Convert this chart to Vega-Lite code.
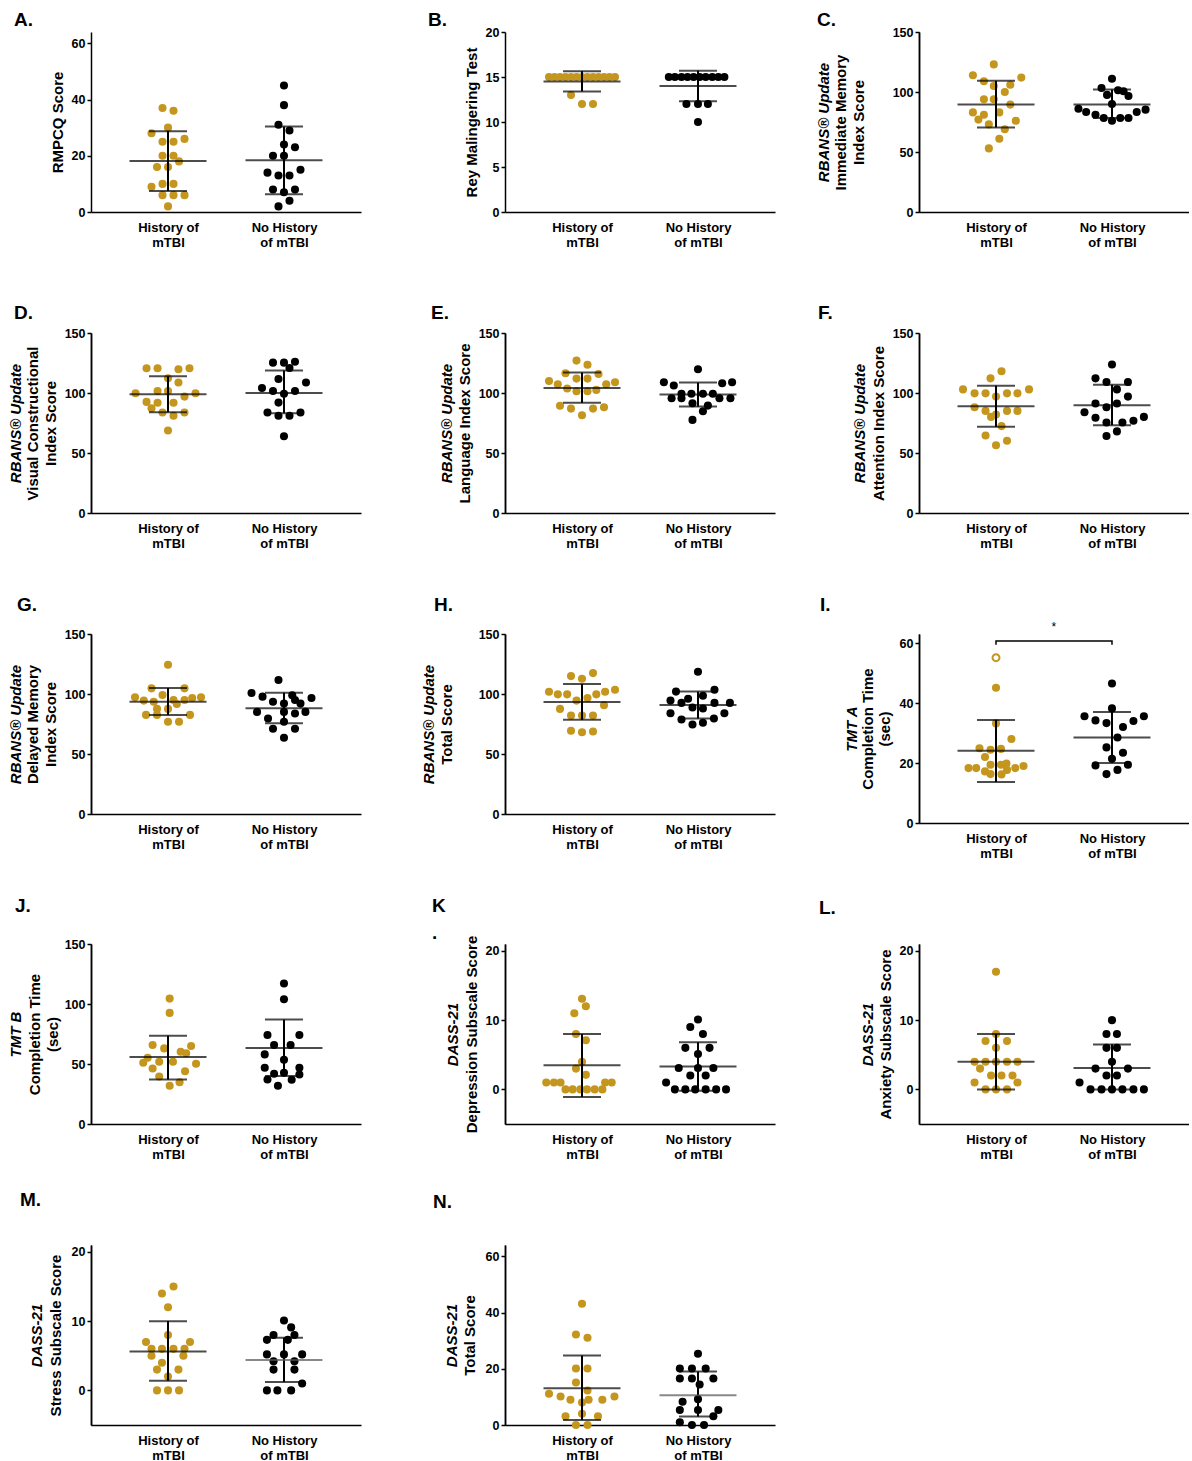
{
"$schema":"https://vega.github.io/schema/vega-lite/v6.json",
"padding":{"left":8,"top":11,"right":0,"bottom":0},
"background":"white",
"datasets":{
"pts":[
{"p":"A","g":"H","v":37,"s":-1},{"p":"A","g":"H","v":36,"s":1},{"p":"A","g":"H","v":30,"s":0},{"p":"A","g":"H","v":28,"s":-3},{"p":"A","g":"H","v":26,"s":3},{"p":"A","g":"H","v":25,"s":-1},{"p":"A","g":"H","v":25,"s":1},{"p":"A","g":"H","v":20,"s":-1},{"p":"A","g":"H","v":20,"s":1},{"p":"A","g":"H","v":18,"s":2},{"p":"A","g":"H","v":16,"s":-2},{"p":"A","g":"H","v":16,"s":0},{"p":"A","g":"H","v":9,"s":-3},{"p":"A","g":"H","v":10,"s":-1},{"p":"A","g":"H","v":10,"s":1},{"p":"A","g":"H","v":6,"s":-1},{"p":"A","g":"H","v":6,"s":1},{"p":"A","g":"H","v":6,"s":3},{"p":"A","g":"H","v":2,"s":0},
{"p":"A","g":"N","v":45,"s":0},{"p":"A","g":"N","v":38,"s":0},{"p":"A","g":"N","v":31,"s":-1},{"p":"A","g":"N","v":29,"s":1},{"p":"A","g":"N","v":24,"s":0},{"p":"A","g":"N","v":23,"s":2},{"p":"A","g":"N","v":20,"s":-2},{"p":"A","g":"N","v":20,"s":0},{"p":"A","g":"N","v":14,"s":-3},{"p":"A","g":"N","v":13,"s":-1},{"p":"A","g":"N","v":13,"s":1},{"p":"A","g":"N","v":15,"s":3},{"p":"A","g":"N","v":8,"s":-2},{"p":"A","g":"N","v":7,"s":0},{"p":"A","g":"N","v":8,"s":2},{"p":"A","g":"N","v":4,"s":1},{"p":"A","g":"N","v":2,"s":-1},
{"p":"B","g":"H","v":15,"s":-6},{"p":"B","g":"H","v":15,"s":-5},{"p":"B","g":"H","v":15,"s":-4},{"p":"B","g":"H","v":15,"s":-3},{"p":"B","g":"H","v":15,"s":-2},{"p":"B","g":"H","v":15,"s":-1},{"p":"B","g":"H","v":15,"s":0},{"p":"B","g":"H","v":15,"s":1},{"p":"B","g":"H","v":15,"s":2},{"p":"B","g":"H","v":15,"s":3},{"p":"B","g":"H","v":15,"s":4},{"p":"B","g":"H","v":15,"s":5},{"p":"B","g":"H","v":15,"s":6},{"p":"B","g":"H","v":13,"s":-2},{"p":"B","g":"H","v":12,"s":0},{"p":"B","g":"H","v":12,"s":2},
{"p":"B","g":"N","v":15,"s":-5.3},{"p":"B","g":"N","v":15,"s":-4.2},{"p":"B","g":"N","v":15,"s":-3},{"p":"B","g":"N","v":15,"s":-1.9},{"p":"B","g":"N","v":15,"s":-0.8},{"p":"B","g":"N","v":15,"s":0.3},{"p":"B","g":"N","v":15,"s":1.4},{"p":"B","g":"N","v":15,"s":2.6},{"p":"B","g":"N","v":15,"s":3.7},{"p":"B","g":"N","v":15,"s":4.8},{"p":"B","g":"N","v":12,"s":-2.1},{"p":"B","g":"N","v":12,"s":0},{"p":"B","g":"N","v":12,"s":1.8},{"p":"B","g":"N","v":10,"s":0},
{"p":"C","g":"H","v":123,"s":-0.4},{"p":"C","g":"H","v":114,"s":-4.2},{"p":"C","g":"H","v":112,"s":4.6},{"p":"C","g":"H","v":109,"s":-2.2},{"p":"C","g":"H","v":105,"s":-0.4},{"p":"C","g":"H","v":106,"s":2.6},{"p":"C","g":"H","v":100,"s":1.6},{"p":"C","g":"H","v":94,"s":-2.2},{"p":"C","g":"H","v":94,"s":-0.4},{"p":"C","g":"H","v":89.5,"s":2.6},{"p":"C","g":"H","v":83,"s":-4.2},{"p":"C","g":"H","v":81,"s":-2.2},{"p":"C","g":"H","v":83,"s":0.6},{"p":"C","g":"H","v":77,"s":-3.2},{"p":"C","g":"H","v":76,"s":3.6},{"p":"C","g":"H","v":73,"s":-1.3},{"p":"C","g":"H","v":69,"s":1.6},{"p":"C","g":"H","v":61,"s":0.6},{"p":"C","g":"H","v":53,"s":-1.3},
{"p":"C","g":"N","v":111,"s":0},{"p":"C","g":"N","v":103.4,"s":-1.9},{"p":"C","g":"N","v":101.5,"s":1.1},{"p":"C","g":"N","v":97.6,"s":-0.9},{"p":"C","g":"N","v":100.6,"s":2.1},{"p":"C","g":"N","v":96.7,"s":3},{"p":"C","g":"N","v":90,"s":0},{"p":"C","g":"N","v":86.1,"s":-6.1},{"p":"C","g":"N","v":83.4,"s":-4.7},{"p":"C","g":"N","v":81.1,"s":-3},{"p":"C","g":"N","v":78.3,"s":-1.5},{"p":"C","g":"N","v":76.1,"s":0},{"p":"C","g":"N","v":78.3,"s":1.5},{"p":"C","g":"N","v":78.3,"s":3},{"p":"C","g":"N","v":83.4,"s":4.5},{"p":"C","g":"N","v":85.3,"s":6.1},
{"p":"D","g":"H","v":120.6,"s":-3.9},{"p":"D","g":"H","v":120.6,"s":-1.9},{"p":"D","g":"H","v":119.8,"s":1.9},{"p":"D","g":"H","v":120.6,"s":3.9},{"p":"D","g":"H","v":112.3,"s":0},{"p":"D","g":"H","v":108.7,"s":1.9},{"p":"D","g":"H","v":99.8,"s":-5.9},{"p":"D","g":"H","v":101.7,"s":-1.9},{"p":"D","g":"H","v":101.7,"s":0},{"p":"D","g":"H","v":99.8,"s":5},{"p":"D","g":"H","v":97,"s":3},{"p":"D","g":"H","v":92.6,"s":-3.9},{"p":"D","g":"H","v":91.8,"s":-1.9},{"p":"D","g":"H","v":91.8,"s":1},{"p":"D","g":"H","v":87.3,"s":-3},{"p":"D","g":"H","v":83.7,"s":-1},{"p":"D","g":"H","v":83.7,"s":3},{"p":"D","g":"H","v":81,"s":1},{"p":"D","g":"H","v":68.8,"s":0},
{"p":"D","g":"N","v":125.3,"s":-2},{"p":"D","g":"N","v":125.3,"s":0},{"p":"D","g":"N","v":126.1,"s":2},{"p":"D","g":"N","v":120.9,"s":1},{"p":"D","g":"N","v":111.7,"s":-1},{"p":"D","g":"N","v":108.7,"s":4},{"p":"D","g":"N","v":104.2,"s":-4},{"p":"D","g":"N","v":101.7,"s":-2},{"p":"D","g":"N","v":99.3,"s":0},{"p":"D","g":"N","v":101.7,"s":2},{"p":"D","g":"N","v":92,"s":-1},{"p":"D","g":"N","v":83.7,"s":-3},{"p":"D","g":"N","v":83.7,"s":3},{"p":"D","g":"N","v":81,"s":-1},{"p":"D","g":"N","v":81,"s":1},{"p":"D","g":"N","v":64,"s":0},
{"p":"E","g":"H","v":127,"s":-1},{"p":"E","g":"H","v":123.6,"s":1},{"p":"E","g":"H","v":116.4,"s":-3},{"p":"E","g":"H","v":115.9,"s":3},{"p":"E","g":"H","v":112,"s":-1},{"p":"E","g":"H","v":112,"s":1},{"p":"E","g":"H","v":110,"s":-6},{"p":"E","g":"H","v":109,"s":6},{"p":"E","g":"H","v":107.3,"s":-4.4},{"p":"E","g":"H","v":107.3,"s":4.4},{"p":"E","g":"H","v":103.7,"s":-2.7},{"p":"E","g":"H","v":101.5,"s":-1},{"p":"E","g":"H","v":101.5,"s":1},{"p":"E","g":"H","v":102.6,"s":2.6},{"p":"E","g":"H","v":89.3,"s":-4},{"p":"E","g":"H","v":87,"s":-2},{"p":"E","g":"H","v":87,"s":2},{"p":"E","g":"H","v":88.2,"s":4},{"p":"E","g":"H","v":81.5,"s":0},
{"p":"E","g":"N","v":119.8,"s":0},{"p":"E","g":"N","v":109,"s":-6.2},{"p":"E","g":"N","v":106.2,"s":-4.4},{"p":"E","g":"N","v":108.1,"s":4.4},{"p":"E","g":"N","v":109,"s":6.2},{"p":"E","g":"N","v":99.3,"s":-3},{"p":"E","g":"N","v":99.3,"s":-1.2},{"p":"E","g":"N","v":99.3,"s":0.9},{"p":"E","g":"N","v":99.3,"s":2.7},{"p":"E","g":"N","v":95.6,"s":-4.8},{"p":"E","g":"N","v":95.6,"s":-3},{"p":"E","g":"N","v":95.6,"s":3.9},{"p":"E","g":"N","v":95.6,"s":5.9},{"p":"E","g":"N","v":91.5,"s":-1},{"p":"E","g":"N","v":89.5,"s":1.8},{"p":"E","g":"N","v":84.8,"s":0.9},{"p":"E","g":"N","v":77.6,"s":-1},
{"p":"F","g":"H","v":118.2,"s":1},{"p":"F","g":"H","v":112.2,"s":-1},{"p":"F","g":"H","v":103,"s":-6},{"p":"F","g":"H","v":103,"s":6},{"p":"F","g":"H","v":99.7,"s":-3.9},{"p":"F","g":"H","v":99.7,"s":-1.9},{"p":"F","g":"H","v":99.7,"s":2},{"p":"F","g":"H","v":99.7,"s":3.9},{"p":"F","g":"H","v":97,"s":0},{"p":"F","g":"H","v":88.1,"s":-3.9},{"p":"F","g":"H","v":85.1,"s":-1.9},{"p":"F","g":"H","v":85.1,"s":2},{"p":"F","g":"H","v":85.1,"s":3.9},{"p":"F","g":"H","v":80.1,"s":-0.9},{"p":"F","g":"H","v":82,"s":0},{"p":"F","g":"H","v":72.4,"s":1},{"p":"F","g":"H","v":64.6,"s":-1.9},{"p":"F","g":"H","v":60.2,"s":2},{"p":"F","g":"H","v":56.4,"s":0},
{"p":"F","g":"N","v":123.8,"s":0},{"p":"F","g":"N","v":112.2,"s":-3},{"p":"F","g":"N","v":109.1,"s":-1},{"p":"F","g":"N","v":109.1,"s":2.9},{"p":"F","g":"N","v":103,"s":0.9},{"p":"F","g":"N","v":97,"s":2.9},{"p":"F","g":"N","v":91.2,"s":-3},{"p":"F","g":"N","v":88.1,"s":-1},{"p":"F","g":"N","v":91.2,"s":0.9},{"p":"F","g":"N","v":84,"s":-5},{"p":"F","g":"N","v":79.3,"s":-3},{"p":"F","g":"N","v":75.4,"s":-1},{"p":"F","g":"N","v":75.4,"s":1.9},{"p":"F","g":"N","v":76.8,"s":3.9},{"p":"F","g":"N","v":80.1,"s":5.8},{"p":"F","g":"N","v":68,"s":0.9},{"p":"F","g":"N","v":64.1,"s":-1},
{"p":"G","g":"H","v":124.3,"s":0},{"p":"G","g":"H","v":104.7,"s":-3},{"p":"G","g":"H","v":104.7,"s":3},{"p":"G","g":"H","v":99.2,"s":-1},{"p":"G","g":"H","v":95,"s":1},{"p":"G","g":"H","v":97.2,"s":-6},{"p":"G","g":"H","v":94.5,"s":-4.4},{"p":"G","g":"H","v":93.6,"s":-2.6},{"p":"G","g":"H","v":96.7,"s":4.4},{"p":"G","g":"H","v":97.2,"s":6},{"p":"G","g":"H","v":95,"s":3},{"p":"G","g":"H","v":91.7,"s":1.6},{"p":"G","g":"H","v":87.6,"s":0},{"p":"G","g":"H","v":87.6,"s":-2},{"p":"G","g":"H","v":82.6,"s":-4},{"p":"G","g":"H","v":82.6,"s":-2},{"p":"G","g":"H","v":82.6,"s":4},{"p":"G","g":"H","v":76.8,"s":0},{"p":"G","g":"H","v":76.8,"s":2},
{"p":"G","g":"N","v":111.6,"s":-1},{"p":"G","g":"N","v":100.8,"s":-5.9},{"p":"G","g":"N","v":97.8,"s":-3.9},{"p":"G","g":"N","v":99,"s":1.5},{"p":"G","g":"N","v":95,"s":2},{"p":"G","g":"N","v":93.6,"s":-2},{"p":"G","g":"N","v":92,"s":0},{"p":"G","g":"N","v":92,"s":3},{"p":"G","g":"N","v":96.7,"s":5},{"p":"G","g":"N","v":85.1,"s":-4.9},{"p":"G","g":"N","v":79.6,"s":-2.9},{"p":"G","g":"N","v":85.1,"s":0},{"p":"G","g":"N","v":83.7,"s":2},{"p":"G","g":"N","v":85.1,"s":3.9},{"p":"G","g":"N","v":76.8,"s":0},{"p":"G","g":"N","v":71,"s":-2},{"p":"G","g":"N","v":71,"s":2},{"p":"G","g":"N","v":63.5,"s":0},
{"p":"H","g":"H","v":114.9,"s":-2},{"p":"H","g":"H","v":112.7,"s":0},{"p":"H","g":"H","v":117.4,"s":2},{"p":"H","g":"H","v":101.9,"s":-6},{"p":"H","g":"H","v":99.7,"s":-4.4},{"p":"H","g":"H","v":99.7,"s":-2.7},{"p":"H","g":"H","v":94.5,"s":-1},{"p":"H","g":"H","v":96.7,"s":1},{"p":"H","g":"H","v":99.7,"s":2.6},{"p":"H","g":"H","v":101.9,"s":4.2},{"p":"H","g":"H","v":103.6,"s":6},{"p":"H","g":"H","v":87.6,"s":-4},{"p":"H","g":"H","v":82,"s":-2},{"p":"H","g":"H","v":82,"s":0},{"p":"H","g":"H","v":82,"s":2},{"p":"H","g":"H","v":90.6,"s":4},{"p":"H","g":"H","v":69.3,"s":-2},{"p":"H","g":"H","v":68.2,"s":0},{"p":"H","g":"H","v":68.8,"s":2},
{"p":"H","g":"N","v":118.6,"s":0},{"p":"H","g":"N","v":102,"s":-4},{"p":"H","g":"N","v":103.6,"s":3},{"p":"H","g":"N","v":94.5,"s":-5},{"p":"H","g":"N","v":92.6,"s":-3},{"p":"H","g":"N","v":96.1,"s":-1.8},{"p":"H","g":"N","v":98.6,"s":0.9},{"p":"H","g":"N","v":88.7,"s":-1},{"p":"H","g":"N","v":87.9,"s":0.9},{"p":"H","g":"N","v":92.6,"s":3},{"p":"H","g":"N","v":92.6,"s":5.8},{"p":"H","g":"N","v":84,"s":-5},{"p":"H","g":"N","v":84,"s":4.8},{"p":"H","g":"N","v":78.8,"s":-3},{"p":"H","g":"N","v":74.6,"s":-1},{"p":"H","g":"N","v":76,"s":0.9},{"p":"H","g":"N","v":79.6,"s":2.9},
{"p":"I","g":"H","v":55.1,"s":0,"o":1},{"p":"I","g":"H","v":45.1,"s":0},{"p":"I","g":"H","v":33.2,"s":0},{"p":"I","g":"H","v":28,"s":2.8},{"p":"I","g":"H","v":24.9,"s":-3},{"p":"I","g":"H","v":24.4,"s":-1},{"p":"I","g":"H","v":24.7,"s":0.9},{"p":"I","g":"H","v":22,"s":-2},{"p":"I","g":"H","v":18.3,"s":-5},{"p":"I","g":"H","v":18.3,"s":-3.6},{"p":"I","g":"H","v":19.4,"s":-1},{"p":"I","g":"H","v":19.4,"s":0.9},{"p":"I","g":"H","v":19.8,"s":1.9},{"p":"I","g":"H","v":18.3,"s":3.5},{"p":"I","g":"H","v":19,"s":5},{"p":"I","g":"H","v":17.2,"s":-2},{"p":"I","g":"H","v":17.7,"s":2},{"p":"I","g":"H","v":16.3,"s":-1},{"p":"I","g":"H","v":16.2,"s":1},
{"p":"I","g":"N","v":46.5,"s":0},{"p":"I","g":"N","v":38.2,"s":0},{"p":"I","g":"N","v":35.6,"s":-5},{"p":"I","g":"N","v":34.2,"s":-3},{"p":"I","g":"N","v":33.3,"s":-1},{"p":"I","g":"N","v":34,"s":3.9},{"p":"I","g":"N","v":35.6,"s":5.8},{"p":"I","g":"N","v":32,"s":2},{"p":"I","g":"N","v":28.5,"s":1},{"p":"I","g":"N","v":25.2,"s":-1},{"p":"I","g":"N","v":23.4,"s":2},{"p":"I","g":"N","v":21.4,"s":0},{"p":"I","g":"N","v":19.2,"s":-3},{"p":"I","g":"N","v":19.4,"s":2.9},{"p":"I","g":"N","v":17.7,"s":1},{"p":"I","g":"N","v":16.3,"s":-1},
{"p":"J","g":"H","v":104.5,"s":0.3},{"p":"J","g":"H","v":92.6,"s":0.3},{"p":"J","g":"H","v":65.8,"s":-2.8},{"p":"J","g":"H","v":63,"s":-0.7},{"p":"J","g":"H","v":65,"s":4.2},{"p":"J","g":"H","v":60.2,"s":2.3},{"p":"J","g":"H","v":59,"s":3.3},{"p":"J","g":"H","v":55.2,"s":-3.7},{"p":"J","g":"H","v":51,"s":-4.5},{"p":"J","g":"H","v":51.8,"s":-1.6},{"p":"J","g":"H","v":51.8,"s":0.9},{"p":"J","g":"H","v":50.2,"s":5.1},{"p":"J","g":"H","v":46.3,"s":-2.8},{"p":"J","g":"H","v":44,"s":3.1},{"p":"J","g":"H","v":39.6,"s":-1.6},{"p":"J","g":"H","v":34.8,"s":2.1},{"p":"J","g":"H","v":31.8,"s":0.3},
{"p":"J","g":"N","v":117.1,"s":0},{"p":"J","g":"N","v":104,"s":0},{"p":"J","g":"N","v":74.2,"s":-3},{"p":"J","g":"N","v":74.2,"s":2.8},{"p":"J","g":"N","v":65.8,"s":-1.8},{"p":"J","g":"N","v":65.8,"s":1.2},{"p":"J","g":"N","v":58,"s":-3.5},{"p":"J","g":"N","v":53.5,"s":0},{"p":"J","g":"N","v":46.8,"s":-3.5},{"p":"J","g":"N","v":46.8,"s":2.8},{"p":"J","g":"N","v":42.7,"s":0},{"p":"J","g":"N","v":41.8,"s":-1.8},{"p":"J","g":"N","v":41.3,"s":2.8},{"p":"J","g":"N","v":37.1,"s":-3},{"p":"J","g":"N","v":36.8,"s":1.4},{"p":"J","g":"N","v":31.8,"s":-1.1},
{"p":"K","g":"H","v":13.1,"s":0},{"p":"K","g":"H","v":12,"s":0.7},{"p":"K","g":"H","v":11,"s":-1.4},{"p":"K","g":"H","v":8,"s":-1.1},{"p":"K","g":"H","v":7.1,"s":0.7},{"p":"K","g":"H","v":4,"s":0},{"p":"K","g":"H","v":3,"s":-1.1},{"p":"K","g":"H","v":2.1,"s":0.7},{"p":"K","g":"H","v":1,"s":-6.5},{"p":"K","g":"H","v":1,"s":-5.1},{"p":"K","g":"H","v":1,"s":-3.9},{"p":"K","g":"H","v":1,"s":4.2},{"p":"K","g":"H","v":1,"s":5.4},{"p":"K","g":"H","v":0,"s":-3},{"p":"K","g":"H","v":0,"s":-1.7},{"p":"K","g":"H","v":0,"s":-0.3},{"p":"K","g":"H","v":0,"s":0.9},{"p":"K","g":"H","v":0,"s":2.3},{"p":"K","g":"H","v":0,"s":3.7},
{"p":"K","g":"N","v":10.1,"s":0},{"p":"K","g":"N","v":9,"s":-1.4},{"p":"K","g":"N","v":8,"s":0.9},{"p":"K","g":"N","v":6,"s":-2.3},{"p":"K","g":"N","v":5.1,"s":0},{"p":"K","g":"N","v":6,"s":2.1},{"p":"K","g":"N","v":1,"s":-5.8},{"p":"K","g":"N","v":3.1,"s":-3.5},{"p":"K","g":"N","v":3.1,"s":0},{"p":"K","g":"N","v":3.1,"s":2.8},{"p":"K","g":"N","v":2,"s":-1.4},{"p":"K","g":"N","v":2,"s":1.4},{"p":"K","g":"N","v":0,"s":-4.2},{"p":"K","g":"N","v":0,"s":-2.3},{"p":"K","g":"N","v":0,"s":-0.5},{"p":"K","g":"N","v":0,"s":1.4},{"p":"K","g":"N","v":0,"s":3.3},{"p":"K","g":"N","v":0,"s":5.1},
{"p":"L","g":"H","v":17,"s":0},{"p":"L","g":"H","v":8,"s":0},{"p":"L","g":"H","v":7,"s":-1.9},{"p":"L","g":"H","v":7,"s":2},{"p":"L","g":"H","v":6,"s":0},{"p":"L","g":"H","v":4,"s":-3.9},{"p":"L","g":"H","v":4,"s":-1.9},{"p":"L","g":"H","v":4,"s":0},{"p":"L","g":"H","v":4,"s":2},{"p":"L","g":"H","v":4,"s":3.9},{"p":"L","g":"H","v":3,"s":-2.9},{"p":"L","g":"H","v":2,"s":-0.9},{"p":"L","g":"H","v":2,"s":1},{"p":"L","g":"H","v":2,"s":3},{"p":"L","g":"H","v":1,"s":-3.9},{"p":"L","g":"H","v":1,"s":3.9},{"p":"L","g":"H","v":0,"s":-1.9},{"p":"L","g":"H","v":0,"s":0},{"p":"L","g":"H","v":0,"s":2},
{"p":"L","g":"N","v":10,"s":0},{"p":"L","g":"N","v":8,"s":-1},{"p":"L","g":"N","v":8,"s":0.9},{"p":"L","g":"N","v":6,"s":-1},{"p":"L","g":"N","v":6,"s":0.9},{"p":"L","g":"N","v":4,"s":0},{"p":"L","g":"N","v":3,"s":-3},{"p":"L","g":"N","v":3,"s":2.9},{"p":"L","g":"N","v":2,"s":-1},{"p":"L","g":"N","v":2,"s":0.9},{"p":"L","g":"N","v":1,"s":-5.9},{"p":"L","g":"N","v":0,"s":-3.9},{"p":"L","g":"N","v":0,"s":-1.9},{"p":"L","g":"N","v":0,"s":0},{"p":"L","g":"N","v":0,"s":1.9},{"p":"L","g":"N","v":0,"s":3.9},{"p":"L","g":"N","v":0,"s":5.8},
{"p":"M","g":"H","v":15,"s":1},{"p":"M","g":"H","v":14,"s":-1.1},{"p":"M","g":"H","v":12,"s":0},{"p":"M","g":"H","v":8,"s":0},{"p":"M","g":"H","v":7,"s":-4},{"p":"M","g":"H","v":7,"s":4},{"p":"M","g":"H","v":6,"s":-1.1},{"p":"M","g":"H","v":6,"s":1},{"p":"M","g":"H","v":6,"s":-3},{"p":"M","g":"H","v":6,"s":3},{"p":"M","g":"H","v":5,"s":-3},{"p":"M","g":"H","v":5,"s":2.8},{"p":"M","g":"H","v":4,"s":-1.1},{"p":"M","g":"H","v":3,"s":1.9},{"p":"M","g":"H","v":3,"s":-2},{"p":"M","g":"H","v":2,"s":0},{"p":"M","g":"H","v":0,"s":-2},{"p":"M","g":"H","v":0,"s":0},{"p":"M","g":"H","v":0,"s":2},
{"p":"M","g":"N","v":10.1,"s":0},{"p":"M","g":"N","v":9.1,"s":1.3},{"p":"M","g":"N","v":8,"s":-1.9},{"p":"M","g":"N","v":8,"s":1.9},{"p":"M","g":"N","v":7.3,"s":-3.1},{"p":"M","g":"N","v":7.3,"s":0.7},{"p":"M","g":"N","v":5.2,"s":-3.1},{"p":"M","g":"N","v":5.2,"s":0},{"p":"M","g":"N","v":5.2,"s":3.3},{"p":"M","g":"N","v":4.2,"s":-1.9},{"p":"M","g":"N","v":4.2,"s":1.9},{"p":"M","g":"N","v":3,"s":-1.9},{"p":"M","g":"N","v":3,"s":1.9},{"p":"M","g":"N","v":1,"s":3.3},{"p":"M","g":"N","v":0,"s":-3.1},{"p":"M","g":"N","v":0,"s":-1.2},{"p":"M","g":"N","v":0,"s":1.3},
{"p":"N","g":"H","v":43.1,"s":0},{"p":"N","g":"H","v":32.2,"s":-1.1},{"p":"N","g":"H","v":31,"s":1},{"p":"N","g":"H","v":20.1,"s":-1.1},{"p":"N","g":"H","v":20.1,"s":1},{"p":"N","g":"H","v":15.1,"s":-1.1},{"p":"N","g":"H","v":12.3,"s":1},{"p":"N","g":"H","v":11.1,"s":-6},{"p":"N","g":"H","v":10.1,"s":-3.9},{"p":"N","g":"H","v":10.1,"s":5.9},{"p":"N","g":"H","v":9,"s":-2.1},{"p":"N","g":"H","v":9,"s":1.2},{"p":"N","g":"H","v":9,"s":3.7},{"p":"N","g":"H","v":8,"s":0},{"p":"N","g":"H","v":3.1,"s":-3},{"p":"N","g":"H","v":3.1,"s":2.9},{"p":"N","g":"H","v":4,"s":0},{"p":"N","g":"H","v":0,"s":-1.1},{"p":"N","g":"H","v":0,"s":1},
{"p":"N","g":"N","v":25.3,"s":0},{"p":"N","g":"N","v":20.1,"s":-3.3},{"p":"N","g":"N","v":20.1,"s":-1.1},{"p":"N","g":"N","v":20.1,"s":1.4},{"p":"N","g":"N","v":16.5,"s":-3.3},{"p":"N","g":"N","v":16.5,"s":-1.1},{"p":"N","g":"N","v":16.5,"s":2.8},{"p":"N","g":"N","v":14.4,"s":0.3},{"p":"N","g":"N","v":8.3,"s":-2.8},{"p":"N","g":"N","v":9.2,"s":0},{"p":"N","g":"N","v":5.3,"s":-3.3},{"p":"N","g":"N","v":5.3,"s":0},{"p":"N","g":"N","v":5.3,"s":3.7},{"p":"N","g":"N","v":3.1,"s":2.8},{"p":"N","g":"N","v":1,"s":-3.3},{"p":"N","g":"N","v":0,"s":-1.1},{"p":"N","g":"N","v":0,"s":1.1}
],
"sum":[
{"p":"A","g":"H","m":18.1,"lo":7.5,"hi":28.7},{"p":"A","g":"N","m":18.4,"lo":6.3,"hi":30.4},
{"p":"B","g":"H","m":14.5,"lo":13.4,"hi":15.65},{"p":"B","g":"N","m":14.0,"lo":12.3,"hi":15.7},
{"p":"C","g":"H","m":89.5,"lo":70.5,"hi":109.3},{"p":"C","g":"N","m":89.5,"lo":78.3,"hi":102},
{"p":"D","g":"H","m":99,"lo":84,"hi":113.9},{"p":"D","g":"N","m":100.1,"lo":83.2,"hi":118.7},
{"p":"E","g":"H","m":104.2,"lo":91.8,"hi":117},{"p":"E","g":"N","m":98.7,"lo":88.7,"hi":108.7},
{"p":"F","g":"H","m":89,"lo":71.8,"hi":106.1},{"p":"F","g":"N","m":89.8,"lo":73.2,"hi":106.9},
{"p":"G","g":"H","m":93.6,"lo":82.6,"hi":105},{"p":"G","g":"N","m":88.1,"lo":75.7,"hi":101.1},
{"p":"H","g":"H","m":93.4,"lo":78.5,"hi":108.3},{"p":"H","g":"N","m":90.9,"lo":79.6,"hi":102},
{"p":"I","g":"H","m":24.1,"lo":13.7,"hi":34.3},{"p":"I","g":"N","m":28.5,"lo":20,"hi":37},
{"p":"J","g":"H","m":55.8,"lo":37.1,"hi":73.6},{"p":"J","g":"N","m":63.3,"lo":40.1,"hi":87},
{"p":"K","g":"H","m":3.5,"lo":-1.1,"hi":8},{"p":"K","g":"N","m":3.3,"lo":-0.2,"hi":6.8},
{"p":"L","g":"H","m":4,"lo":0,"hi":8},{"p":"L","g":"N","m":3.1,"lo":0,"hi":6.5},
{"p":"M","g":"H","m":5.6,"lo":1.4,"hi":10},{"p":"M","g":"N","m":4.4,"lo":1.2,"hi":7.6},
{"p":"N","g":"H","m":13.1,"lo":1.8,"hi":24.7},{"p":"N","g":"N","m":10.6,"lo":3,"hi":19}
]
},
"columns":3,
"spacing":{"row":121,"column":144},
"bounds":"flush",
"concat":[
{"width":270,"height":180,"title":{"text":"A.","dx":-77,"offset":2},
 "encoding":{"x":{"field":"g","type":"nominal","scale":{"type":"point","domain":["H","N"],"padding":0.664},"axis":{"title":null,"labelExpr":"datum.value == 'H' ? ['History of', 'mTBI'] : ['No History', 'of mTBI']"}}},
 "layer":[
  {"data":{"name":"pts"},"transform":[{"filter":"datum.p=='A'"}],"mark":{"type":"circle","size":65,"opacity":1},"encoding":{"xOffset":{"field":"s","type":"quantitative","scale":{"domain":[-10,10],"range":[-55,55]}},"y":{"field":"v","type":"quantitative","scale":{"domain":[0,64],"nice":false,"zero":false},"axis":{"values":[0,20,40,60],"title":"RMPCQ Score","titlePadding":6}},"color":{"field":"g","type":"nominal","scale":{"domain":["H","N"],"range":["#C4961E","#000000"]},"legend":null}}},
  {"data":{"name":"sum"},"transform":[{"filter":"datum.p=='A'"}],"mark":{"type":"errorbar","ticks":{"size":38,"thickness":2,"color":"#000"},"rule":{"strokeWidth":2,"color":"#000"}},"encoding":{"y":{"field":"lo","type":"quantitative","scale":{"domain":[0,64],"nice":false,"zero":false},"axis":null},"y2":{"field":"hi"}}},
  {"data":{"name":"sum"},"transform":[{"filter":"datum.p=='A'"}],"mark":{"type":"tick","size":77,"thickness":2,"color":"#000"},"encoding":{"y":{"field":"m","type":"quantitative","scale":{"domain":[0,64],"nice":false,"zero":false},"axis":null}}}
 ],"resolve":{"scale":{"y":"independent"}}},
{"width":270,"height":180,"title":{"text":"B.","dx":-77,"offset":-4},
 "encoding":{"x":{"field":"g","type":"nominal","scale":{"type":"point","domain":["H","N"],"padding":0.664},"axis":{"title":null,"labelExpr":"datum.value == 'H' ? ['History of', 'mTBI'] : ['No History', 'of mTBI']"}}},
 "layer":[
  {"data":{"name":"pts"},"transform":[{"filter":"datum.p=='B'"}],"mark":{"type":"circle","size":65,"opacity":1},"encoding":{"xOffset":{"field":"s","type":"quantitative","scale":{"domain":[-10,10],"range":[-55,55]}},"y":{"field":"v","type":"quantitative","scale":{"domain":[0,20],"nice":false,"zero":false},"axis":{"values":[0,5,10,15,20],"title":"Rey Malingering Test","titlePadding":6}},"color":{"field":"g","type":"nominal","scale":{"domain":["H","N"],"range":["#C4961E","#000000"]},"legend":null}}},
  {"data":{"name":"sum"},"transform":[{"filter":"datum.p=='B'"}],"mark":{"type":"errorbar","ticks":{"size":38,"thickness":2,"color":"#000"},"rule":{"strokeWidth":2,"color":"#000"}},"encoding":{"y":{"field":"lo","type":"quantitative","scale":{"domain":[0,20],"nice":false,"zero":false},"axis":null},"y2":{"field":"hi"}}},
  {"data":{"name":"sum"},"transform":[{"filter":"datum.p=='B'"}],"mark":{"type":"tick","size":77,"thickness":2,"color":"#000"},"encoding":{"y":{"field":"m","type":"quantitative","scale":{"domain":[0,20],"nice":false,"zero":false},"axis":null}}}
 ],"resolve":{"scale":{"y":"independent"}}},
{"width":270,"height":180,"title":{"text":"C.","dx":-102,"offset":-4},
 "encoding":{"x":{"field":"g","type":"nominal","scale":{"type":"point","domain":["H","N"],"padding":0.664},"axis":{"title":null,"labelExpr":"datum.value == 'H' ? ['History of', 'mTBI'] : ['No History', 'of mTBI']"}}},
 "layer":[
  {"data":{"name":"pts"},"transform":[{"filter":"datum.p=='C'"}],"mark":{"type":"circle","size":65,"opacity":1},"encoding":{"xOffset":{"field":"s","type":"quantitative","scale":{"domain":[-10,10],"range":[-55,55]}},"y":{"field":"v","type":"quantitative","scale":{"domain":[0,150],"nice":false,"zero":false},"axis":{"values":[0,50,100,150],"title":["Immediate Memory","Index Score"],"titlePadding":26}},"color":{"field":"g","type":"nominal","scale":{"domain":["H","N"],"range":["#C4961E","#000000"]},"legend":null}}},
  {"data":{"name":"sum"},"transform":[{"filter":"datum.p=='C'"}],"mark":{"type":"errorbar","ticks":{"size":38,"thickness":2,"color":"#000"},"rule":{"strokeWidth":2,"color":"#000"}},"encoding":{"y":{"field":"lo","type":"quantitative","scale":{"domain":[0,150],"nice":false,"zero":false},"axis":{"orient":"left","title":"RBANS® Update","titleFontStyle":"italic","labels":false,"ticks":false,"titlePadding":88}},"y2":{"field":"hi"}}},
  {"data":{"name":"sum"},"transform":[{"filter":"datum.p=='C'"}],"mark":{"type":"tick","size":77,"thickness":2,"color":"#000"},"encoding":{"y":{"field":"m","type":"quantitative","scale":{"domain":[0,150],"nice":false,"zero":false},"axis":null}}}
 ],"resolve":{"scale":{"y":"independent"}}},
{"width":270,"height":180,"title":{"text":"D.","dx":-77,"offset":4},
 "encoding":{"x":{"field":"g","type":"nominal","scale":{"type":"point","domain":["H","N"],"padding":0.664},"axis":{"title":null,"labelExpr":"datum.value == 'H' ? ['History of', 'mTBI'] : ['No History', 'of mTBI']"}}},
 "layer":[
  {"data":{"name":"pts"},"transform":[{"filter":"datum.p=='D'"}],"mark":{"type":"circle","size":65,"opacity":1},"encoding":{"xOffset":{"field":"s","type":"quantitative","scale":{"domain":[-10,10],"range":[-55,55]}},"y":{"field":"v","type":"quantitative","scale":{"domain":[0,150],"nice":false,"zero":false},"axis":{"values":[0,50,100,150],"title":["Visual Constructional","Index Score"],"titlePadding":6}},"color":{"field":"g","type":"nominal","scale":{"domain":["H","N"],"range":["#C4961E","#000000"]},"legend":null}}},
  {"data":{"name":"sum"},"transform":[{"filter":"datum.p=='D'"}],"mark":{"type":"errorbar","ticks":{"size":38,"thickness":2,"color":"#000"},"rule":{"strokeWidth":2,"color":"#000"}},"encoding":{"y":{"field":"lo","type":"quantitative","scale":{"domain":[0,150],"nice":false,"zero":false},"axis":{"orient":"left","title":"RBANS® Update","titleFontStyle":"italic","labels":false,"ticks":false,"titlePadding":68}},"y2":{"field":"hi"}}},
  {"data":{"name":"sum"},"transform":[{"filter":"datum.p=='D'"}],"mark":{"type":"tick","size":77,"thickness":2,"color":"#000"},"encoding":{"y":{"field":"m","type":"quantitative","scale":{"domain":[0,150],"nice":false,"zero":false},"axis":null}}}
 ],"resolve":{"scale":{"y":"independent"}}},
{"width":270,"height":180,"title":{"text":"E.","dx":-74,"offset":4},
 "encoding":{"x":{"field":"g","type":"nominal","scale":{"type":"point","domain":["H","N"],"padding":0.664},"axis":{"title":null,"labelExpr":"datum.value == 'H' ? ['History of', 'mTBI'] : ['No History', 'of mTBI']"}}},
 "layer":[
  {"data":{"name":"pts"},"transform":[{"filter":"datum.p=='E'"}],"mark":{"type":"circle","size":65,"opacity":1},"encoding":{"xOffset":{"field":"s","type":"quantitative","scale":{"domain":[-10,10],"range":[-55,55]}},"y":{"field":"v","type":"quantitative","scale":{"domain":[0,150],"nice":false,"zero":false},"axis":{"values":[0,50,100,150],"title":"Language Index Score","titlePadding":6}},"color":{"field":"g","type":"nominal","scale":{"domain":["H","N"],"range":["#C4961E","#000000"]},"legend":null}}},
  {"data":{"name":"sum"},"transform":[{"filter":"datum.p=='E'"}],"mark":{"type":"errorbar","ticks":{"size":38,"thickness":2,"color":"#000"},"rule":{"strokeWidth":2,"color":"#000"}},"encoding":{"y":{"field":"lo","type":"quantitative","scale":{"domain":[0,150],"nice":false,"zero":false},"axis":{"orient":"left","title":"RBANS® Update","titleFontStyle":"italic","labels":false,"ticks":false,"titlePadding":51}},"y2":{"field":"hi"}}},
  {"data":{"name":"sum"},"transform":[{"filter":"datum.p=='E'"}],"mark":{"type":"tick","size":77,"thickness":2,"color":"#000"},"encoding":{"y":{"field":"m","type":"quantitative","scale":{"domain":[0,150],"nice":false,"zero":false},"axis":null}}}
 ],"resolve":{"scale":{"y":"independent"}}},
{"width":270,"height":180,"title":{"text":"F.","dx":-101,"offset":4},
 "encoding":{"x":{"field":"g","type":"nominal","scale":{"type":"point","domain":["H","N"],"padding":0.664},"axis":{"title":null,"labelExpr":"datum.value == 'H' ? ['History of', 'mTBI'] : ['No History', 'of mTBI']"}}},
 "layer":[
  {"data":{"name":"pts"},"transform":[{"filter":"datum.p=='F'"}],"mark":{"type":"circle","size":65,"opacity":1},"encoding":{"xOffset":{"field":"s","type":"quantitative","scale":{"domain":[-10,10],"range":[-55,55]}},"y":{"field":"v","type":"quantitative","scale":{"domain":[0,150],"nice":false,"zero":false},"axis":{"values":[0,50,100,150],"title":"Attention Index Score","titlePadding":6}},"color":{"field":"g","type":"nominal","scale":{"domain":["H","N"],"range":["#C4961E","#000000"]},"legend":null}}},
  {"data":{"name":"sum"},"transform":[{"filter":"datum.p=='F'"}],"mark":{"type":"errorbar","ticks":{"size":38,"thickness":2,"color":"#000"},"rule":{"strokeWidth":2,"color":"#000"}},"encoding":{"y":{"field":"lo","type":"quantitative","scale":{"domain":[0,150],"nice":false,"zero":false},"axis":{"orient":"left","title":"RBANS® Update","titleFontStyle":"italic","labels":false,"ticks":false,"titlePadding":52}},"y2":{"field":"hi"}}},
  {"data":{"name":"sum"},"transform":[{"filter":"datum.p=='F'"}],"mark":{"type":"tick","size":77,"thickness":2,"color":"#000"},"encoding":{"y":{"field":"m","type":"quantitative","scale":{"domain":[0,150],"nice":false,"zero":false},"axis":null}}}
 ],"resolve":{"scale":{"y":"independent"}}},
{"width":270,"height":180,"title":{"text":"G.","dx":-74,"offset":13},
 "encoding":{"x":{"field":"g","type":"nominal","scale":{"type":"point","domain":["H","N"],"padding":0.664},"axis":{"title":null,"labelExpr":"datum.value == 'H' ? ['History of', 'mTBI'] : ['No History', 'of mTBI']"}}},
 "layer":[
  {"data":{"name":"pts"},"transform":[{"filter":"datum.p=='G'"}],"mark":{"type":"circle","size":65,"opacity":1},"encoding":{"xOffset":{"field":"s","type":"quantitative","scale":{"domain":[-10,10],"range":[-55,55]}},"y":{"field":"v","type":"quantitative","scale":{"domain":[0,150],"nice":false,"zero":false},"axis":{"values":[0,50,100,150],"title":["Delayed Memory","Index Score"],"titlePadding":6}},"color":{"field":"g","type":"nominal","scale":{"domain":["H","N"],"range":["#C4961E","#000000"]},"legend":null}}},
  {"data":{"name":"sum"},"transform":[{"filter":"datum.p=='G'"}],"mark":{"type":"errorbar","ticks":{"size":38,"thickness":2,"color":"#000"},"rule":{"strokeWidth":2,"color":"#000"}},"encoding":{"y":{"field":"lo","type":"quantitative","scale":{"domain":[0,150],"nice":false,"zero":false},"axis":{"orient":"left","title":"RBANS® Update","titleFontStyle":"italic","labels":false,"ticks":false,"titlePadding":68}},"y2":{"field":"hi"}}},
  {"data":{"name":"sum"},"transform":[{"filter":"datum.p=='G'"}],"mark":{"type":"tick","size":77,"thickness":2,"color":"#000"},"encoding":{"y":{"field":"m","type":"quantitative","scale":{"domain":[0,150],"nice":false,"zero":false},"axis":null}}}
 ],"resolve":{"scale":{"y":"independent"}}},
{"width":270,"height":180,"title":{"text":"H.","dx":-71,"offset":13},
 "encoding":{"x":{"field":"g","type":"nominal","scale":{"type":"point","domain":["H","N"],"padding":0.664},"axis":{"title":null,"labelExpr":"datum.value == 'H' ? ['History of', 'mTBI'] : ['No History', 'of mTBI']"}}},
 "layer":[
  {"data":{"name":"pts"},"transform":[{"filter":"datum.p=='H'"}],"mark":{"type":"circle","size":65,"opacity":1},"encoding":{"xOffset":{"field":"s","type":"quantitative","scale":{"domain":[-10,10],"range":[-55,55]}},"y":{"field":"v","type":"quantitative","scale":{"domain":[0,150],"nice":false,"zero":false},"axis":{"values":[0,50,100,150],"title":"Total Score","titlePadding":24}},"color":{"field":"g","type":"nominal","scale":{"domain":["H","N"],"range":["#C4961E","#000000"]},"legend":null}}},
  {"data":{"name":"sum"},"transform":[{"filter":"datum.p=='H'"}],"mark":{"type":"errorbar","ticks":{"size":38,"thickness":2,"color":"#000"},"rule":{"strokeWidth":2,"color":"#000"}},"encoding":{"y":{"field":"lo","type":"quantitative","scale":{"domain":[0,150],"nice":false,"zero":false},"axis":{"orient":"left","title":"RBANS® Update","titleFontStyle":"italic","labels":false,"ticks":false,"titlePadding":69}},"y2":{"field":"hi"}}},
  {"data":{"name":"sum"},"transform":[{"filter":"datum.p=='H'"}],"mark":{"type":"tick","size":77,"thickness":2,"color":"#000"},"encoding":{"y":{"field":"m","type":"quantitative","scale":{"domain":[0,150],"nice":false,"zero":false},"axis":null}}}
 ],"resolve":{"scale":{"y":"independent"}}},
{"width":270,"height":189,"title":{"text":"I.","dx":-99,"offset":6},
 "encoding":{"x":{"field":"g","type":"nominal","scale":{"type":"point","domain":["H","N"],"padding":0.664},"axis":{"title":null,"labelExpr":"datum.value == 'H' ? ['History of', 'mTBI'] : ['No History', 'of mTBI']"}}},
 "layer":[
  {"data":{"name":"pts"},"transform":[{"filter":"datum.p=='I' && datum.o != 1"}],"mark":{"type":"circle","size":65,"opacity":1},"encoding":{"xOffset":{"field":"s","type":"quantitative","scale":{"domain":[-10,10],"range":[-55,55]}},"y":{"field":"v","type":"quantitative","scale":{"domain":[0,63],"nice":false,"zero":false},"axis":{"values":[0,20,40,60],"title":["Completion Time","(sec)"],"titlePadding":6.5}},"color":{"field":"g","type":"nominal","scale":{"domain":["H","N"],"range":["#C4961E","#000000"]},"legend":null}}},
  {"data":{"name":"pts"},"transform":[{"filter":"datum.p=='I' && datum.o == 1"}],"mark":{"type":"point","shape":"circle","filled":false,"size":48,"strokeWidth":2,"color":"#C4961E","opacity":1},"encoding":{"xOffset":{"field":"s","type":"quantitative","scale":{"domain":[-10,10],"range":[-55,55]}},"y":{"field":"v","type":"quantitative","scale":{"domain":[0,63],"nice":false,"zero":false},"axis":null}}},
  {"data":{"name":"sum"},"transform":[{"filter":"datum.p=='I'"}],"mark":{"type":"errorbar","ticks":{"size":38,"thickness":2,"color":"#000"},"rule":{"strokeWidth":2,"color":"#000"}},"encoding":{"y":{"field":"lo","type":"quantitative","scale":{"domain":[0,63],"nice":false,"zero":false},"axis":{"orient":"left","title":"TMT A","titleFontStyle":"italic","labels":false,"ticks":false,"titlePadding":60}},"y2":{"field":"hi"}}},
  {"data":{"name":"sum"},"transform":[{"filter":"datum.p=='I'"}],"mark":{"type":"tick","size":77,"thickness":2,"color":"#000"},"encoding":{"y":{"field":"m","type":"quantitative","scale":{"domain":[0,63],"nice":false,"zero":false},"axis":null}}},
  {"data":{"values":[{"g":"H","y":59.4,"k":1},{"g":"H","y":60.7,"k":2},{"g":"N","y":60.7,"k":3},{"g":"N","y":59.4,"k":4}]},"mark":{"type":"line","strokeWidth":1.5,"color":"#000"},"encoding":{"y":{"field":"y","type":"quantitative","scale":{"domain":[0,63],"nice":false,"zero":false},"axis":null},"order":{"field":"k","type":"quantitative"}}},
  {"data":{"values":[{"g":"H","s":10.5,"y":65.3,"t":"*"}]},"mark":{"type":"text","fontSize":12,"fontWeight":"normal","fill":"#000000","color":"#000000"},"encoding":{"xOffset":{"field":"s","type":"quantitative","scale":{"domain":[-10,10],"range":[-55,55]}},"y":{"field":"y","type":"quantitative","scale":{"domain":[0,63],"nice":false,"zero":false},"axis":null},"text":{"field":"t"}}}
 ],"resolve":{"scale":{"y":"independent"}}},
{"width":270,"height":180,"title":{"text":"J.","dx":-76,"offset":22},
 "encoding":{"x":{"field":"g","type":"nominal","scale":{"type":"point","domain":["H","N"],"padding":0.664},"axis":{"title":null,"labelExpr":"datum.value == 'H' ? ['History of', 'mTBI'] : ['No History', 'of mTBI']"}}},
 "layer":[
  {"data":{"name":"pts"},"transform":[{"filter":"datum.p=='J'"}],"mark":{"type":"circle","size":65,"opacity":1},"encoding":{"xOffset":{"field":"s","type":"quantitative","scale":{"domain":[-10,10],"range":[-55,55]}},"y":{"field":"v","type":"quantitative","scale":{"domain":[0,150],"nice":false,"zero":false},"axis":{"values":[0,50,100,150],"title":["Completion Time","(sec)"],"titlePadding":4}},"color":{"field":"g","type":"nominal","scale":{"domain":["H","N"],"range":["#C4961E","#000000"]},"legend":null}}},
  {"data":{"name":"sum"},"transform":[{"filter":"datum.p=='J'"}],"mark":{"type":"errorbar","ticks":{"size":38,"thickness":2,"color":"#000"},"rule":{"strokeWidth":2,"color":"#000"}},"encoding":{"y":{"field":"lo","type":"quantitative","scale":{"domain":[0,150],"nice":false,"zero":false},"axis":{"orient":"left","title":"TMT B","titleFontStyle":"italic","labels":false,"ticks":false,"titlePadding":68}},"y2":{"field":"hi"}}},
  {"data":{"name":"sum"},"transform":[{"filter":"datum.p=='J'"}],"mark":{"type":"tick","size":77,"thickness":2,"color":"#000"},"encoding":{"y":{"field":"m","type":"quantitative","scale":{"domain":[0,150],"nice":false,"zero":false},"axis":null}}}
 ],"resolve":{"scale":{"y":"independent"}}},
{"width":270,"height":180,"title":{"text":["K","."],"dx":-73,"offset":-8,"lineHeight":27},
 "encoding":{"x":{"field":"g","type":"nominal","scale":{"type":"point","domain":["H","N"],"padding":0.664},"axis":{"title":null,"labelExpr":"datum.value == 'H' ? ['History of', 'mTBI'] : ['No History', 'of mTBI']"}}},
 "layer":[
  {"data":{"name":"pts"},"transform":[{"filter":"datum.p=='K'"}],"mark":{"type":"circle","size":65,"opacity":1},"encoding":{"xOffset":{"field":"s","type":"quantitative","scale":{"domain":[-10,10],"range":[-55,55]}},"y":{"field":"v","type":"quantitative","scale":{"domain":[-5,21],"nice":false,"zero":false},"axis":{"values":[0,10,20],"title":"Depression Subscale Score","titlePadding":5.5}},"color":{"field":"g","type":"nominal","scale":{"domain":["H","N"],"range":["#C4961E","#000000"]},"legend":null}}},
  {"data":{"name":"sum"},"transform":[{"filter":"datum.p=='K'"}],"mark":{"type":"errorbar","ticks":{"size":38,"thickness":2,"color":"#000"},"rule":{"strokeWidth":2,"color":"#000"}},"encoding":{"y":{"field":"lo","type":"quantitative","scale":{"domain":[-5,21],"nice":false,"zero":false},"axis":{"orient":"left","title":"DASS-21","titleFontStyle":"italic","labels":false,"ticks":false,"titlePadding":45}},"y2":{"field":"hi"}}},
  {"data":{"name":"sum"},"transform":[{"filter":"datum.p=='K'"}],"mark":{"type":"tick","size":77,"thickness":2,"color":"#000"},"encoding":{"y":{"field":"m","type":"quantitative","scale":{"domain":[-5,21],"nice":false,"zero":false},"axis":null}}}
 ],"resolve":{"scale":{"y":"independent"}}},
{"width":270,"height":180,"title":{"text":"L.","dx":-100,"offset":26},
 "encoding":{"x":{"field":"g","type":"nominal","scale":{"type":"point","domain":["H","N"],"padding":0.664},"axis":{"title":null,"labelExpr":"datum.value == 'H' ? ['History of', 'mTBI'] : ['No History', 'of mTBI']"}}},
 "layer":[
  {"data":{"name":"pts"},"transform":[{"filter":"datum.p=='L'"}],"mark":{"type":"circle","size":65,"opacity":1},"encoding":{"xOffset":{"field":"s","type":"quantitative","scale":{"domain":[-10,10],"range":[-55,55]}},"y":{"field":"v","type":"quantitative","scale":{"domain":[-5,21],"nice":false,"zero":false},"axis":{"values":[0,10,20],"title":"Anxiety Subscale Score","titlePadding":6}},"color":{"field":"g","type":"nominal","scale":{"domain":["H","N"],"range":["#C4961E","#000000"]},"legend":null}}},
  {"data":{"name":"sum"},"transform":[{"filter":"datum.p=='L'"}],"mark":{"type":"errorbar","ticks":{"size":38,"thickness":2,"color":"#000"},"rule":{"strokeWidth":2,"color":"#000"}},"encoding":{"y":{"field":"lo","type":"quantitative","scale":{"domain":[-5,21],"nice":false,"zero":false},"axis":{"orient":"left","title":"DASS-21","titleFontStyle":"italic","labels":false,"ticks":false,"titlePadding":44}},"y2":{"field":"hi"}}},
  {"data":{"name":"sum"},"transform":[{"filter":"datum.p=='L'"}],"mark":{"type":"tick","size":77,"thickness":2,"color":"#000"},"encoding":{"y":{"field":"m","type":"quantitative","scale":{"domain":[-5,21],"nice":false,"zero":false},"axis":null}}}
 ],"resolve":{"scale":{"y":"independent"}}},
{"width":270,"height":180,"title":{"text":"M.","dx":-71,"offset":35},
 "encoding":{"x":{"field":"g","type":"nominal","scale":{"type":"point","domain":["H","N"],"padding":0.664},"axis":{"title":null,"labelExpr":"datum.value == 'H' ? ['History of', 'mTBI'] : ['No History', 'of mTBI']"}}},
 "layer":[
  {"data":{"name":"pts"},"transform":[{"filter":"datum.p=='M'"}],"mark":{"type":"circle","size":65,"opacity":1},"encoding":{"xOffset":{"field":"s","type":"quantitative","scale":{"domain":[-10,10],"range":[-55,55]}},"y":{"field":"v","type":"quantitative","scale":{"domain":[-5,21],"nice":false,"zero":false},"axis":{"values":[0,10,20],"title":"Stress Subscale Score","titlePadding":8}},"color":{"field":"g","type":"nominal","scale":{"domain":["H","N"],"range":["#C4961E","#000000"]},"legend":null}}},
  {"data":{"name":"sum"},"transform":[{"filter":"datum.p=='M'"}],"mark":{"type":"errorbar","ticks":{"size":38,"thickness":2,"color":"#000"},"rule":{"strokeWidth":2,"color":"#000"}},"encoding":{"y":{"field":"lo","type":"quantitative","scale":{"domain":[-5,21],"nice":false,"zero":false},"axis":{"orient":"left","title":"DASS-21","titleFontStyle":"italic","labels":false,"ticks":false,"titlePadding":47}},"y2":{"field":"hi"}}},
  {"data":{"name":"sum"},"transform":[{"filter":"datum.p=='M'"}],"mark":{"type":"tick","size":77,"thickness":2},"encoding":{"y":{"field":"m","type":"quantitative","scale":{"domain":[-5,21],"nice":false,"zero":false},"axis":null},"color":{"condition":{"test":"datum.g=='N'","value":"#555555"},"value":"#000000"}}}
 ],"resolve":{"scale":{"y":"independent"}}},
{"width":270,"height":180,"title":{"text":"N.","dx":-72,"offset":33},
 "encoding":{"x":{"field":"g","type":"nominal","scale":{"type":"point","domain":["H","N"],"padding":0.664},"axis":{"title":null,"labelExpr":"datum.value == 'H' ? ['History of', 'mTBI'] : ['No History', 'of mTBI']"}}},
 "layer":[
  {"data":{"name":"pts"},"transform":[{"filter":"datum.p=='N'"}],"mark":{"type":"circle","size":65,"opacity":1},"encoding":{"xOffset":{"field":"s","type":"quantitative","scale":{"domain":[-10,10],"range":[-55,55]}},"y":{"field":"v","type":"quantitative","scale":{"domain":[0,64],"nice":false,"zero":false},"axis":{"values":[0,20,40,60],"title":"Total Score","titlePadding":7.5}},"color":{"field":"g","type":"nominal","scale":{"domain":["H","N"],"range":["#C4961E","#000000"]},"legend":null}}},
  {"data":{"name":"sum"},"transform":[{"filter":"datum.p=='N'"}],"mark":{"type":"errorbar","ticks":{"size":38,"thickness":2,"color":"#000"},"rule":{"strokeWidth":2,"color":"#000"}},"encoding":{"y":{"field":"lo","type":"quantitative","scale":{"domain":[0,64],"nice":false,"zero":false},"axis":{"orient":"left","title":"DASS-21","titleFontStyle":"italic","labels":false,"ticks":false,"titlePadding":46}},"y2":{"field":"hi"}}},
  {"data":{"name":"sum"},"transform":[{"filter":"datum.p=='N'"}],"mark":{"type":"tick","size":77,"thickness":2},"encoding":{"y":{"field":"m","type":"quantitative","scale":{"domain":[0,64],"nice":false,"zero":false},"axis":null},"color":{"condition":{"test":"datum.g=='N'","value":"#555555"},"value":"#000000"}}}
 ],"resolve":{"scale":{"y":"independent"}}}
],
"config":{
 "view":{"stroke":null},
 "font":"Liberation Sans",
 "axis":{"domainColor":"#000","domainWidth":1.5,"tickColor":"#000","tickWidth":1.5,"tickSize":4,"labelColor":"#000","labelFont":"Liberation Sans","labelFontWeight":"bold","labelFontSize":12.5,"labelPadding":2,"titleColor":"#000","titleFont":"Liberation Sans","titleFontWeight":"bold","titleFontSize":15,"titleLineHeight":17.5,"grid":false},
 "axisX":{"ticks":false,"labelFontSize":13,"labelPadding":9,"labelLineHeight":15,"labelAngle":0},
 "title":{"anchor":"start","frame":"group","font":"Liberation Sans","fontSize":19,"fontWeight":"bold","color":"#000"}
}
}
